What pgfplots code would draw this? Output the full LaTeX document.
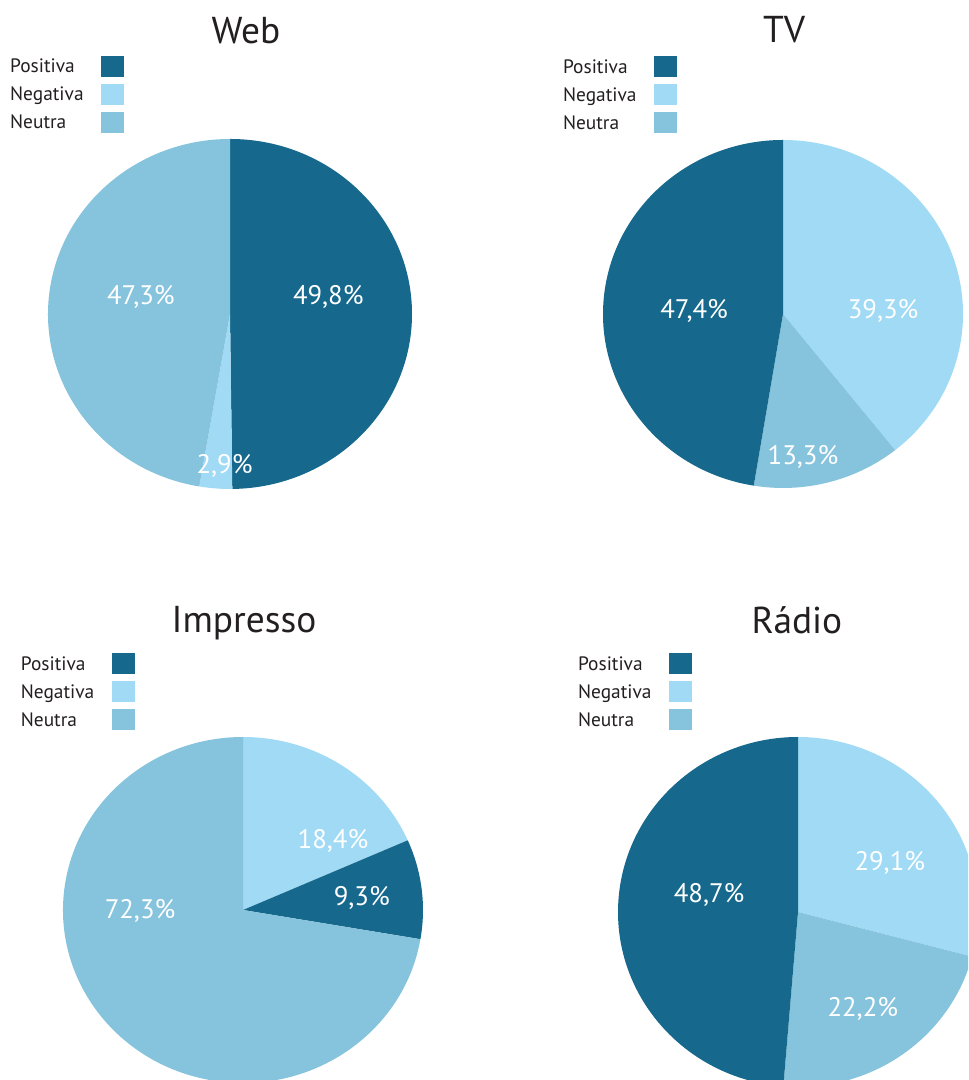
\documentclass[border=0pt]{standalone}
\usepackage{fontspec}
\setmainfont{PT Sans}
\usepackage{pgfplots}
\usepackage{pgfplotstable}
\pgfplotsset{compat=1.18}

\definecolor{cpos}{HTML}{16698C}
\definecolor{cneg}{HTML}{A0DAF5}
\definecolor{cneu}{HTML}{86C3DC}
\definecolor{ctxt}{HTML}{231F20}

\newcommand{\legfont}{\fontsize{9.7}{11}\selectfont}
\newcommand{\titfont}{\fontsize{18.7}{22}\selectfont}
\newcommand{\labfont}{\fontsize{13.4}{15}\selectfont}
\newcommand{\legtxt}[1]{\makebox[40pt][l]{\rule[-3.5pt]{0pt}{14pt}#1}}

% slices listed clockwise from 12 o'clock; lx, ly = label position (unit circle)
\pgfplotstableread{
cat value color lx ly
Positiva 49.8 cpos 0.54 0.10
Negativa 2.9 cneg -0.03 -0.87
Neutra 47.3 cneu -0.49 0.10
}\webdata
\pgfplotstableread{
cat value color lx ly
Negativa 39.3 cneg 0.556 0.02
Neutra 13.3 cneu 0.111 -0.82
Positiva 47.4 cpos -0.494 0.02
}\tvdata
\pgfplotstableread{
cat value color lx ly
Negativa 18.4 cneg 0.50 0.40
Positiva 9.3 cpos 0.66 0.07
Neutra 72.3 cneu -0.572 -0.006
}\impdata
\pgfplotstableread{
cat value color lx ly
Negativa 29.1 cneg 0.51 0.28
Neutra 22.2 cneu 0.36 -0.554
Positiva 48.7 cpos -0.494 0.097
}\raddata

\newcommand{\drawpie}[1]{%
  \pgfplotstablegetrowsof{#1}%
  \pgfmathtruncatemacro{\lastrow}{\pgfplotsretval-1}%
  \gdef\startang{90}%
  \foreach \i in {0,...,\lastrow}{%
    \pgfplotstablegetelem{\i}{value}\of{#1}\let\val\pgfplotsretval
    \pgfplotstablegetelem{\i}{color}\of{#1}\let\col\pgfplotsretval
    \pgfmathsetmacro{\endang}{\startang-3.6*\val}%
    \edef\temp{\noexpand\fill[\col] (axis cs:0,0) -- (axis cs:{cos(\startang)},{sin(\startang)}) arc[start angle=\startang, end angle=\endang, radius=1] -- cycle;}%
    \temp
    \global\let\startang\endang
  }%
  \foreach \i in {0,...,\lastrow}{%
    \pgfplotstablegetelem{\i}{value}\of{#1}\let\val\pgfplotsretval
    \pgfplotstablegetelem{\i}{lx}\of{#1}\let\lx\pgfplotsretval
    \pgfplotstablegetelem{\i}{ly}\of{#1}\let\ly\pgfplotsretval
    \edef\temp{\noexpand\node[font=\noexpand\labfont, text=white, inner sep=0pt] at (axis cs:\lx,\ly) {\noexpand\pgfmathprintnumber[assume math mode=true, use comma, fixed, fixed zerofill, precision=1]{\val}\noexpand\%};}%
    \temp
  }%
}

\pgfplotsset{
  pie/.style={
    scale only axis, anchor=center,
    xmin=-1, xmax=1, ymin=-1, ymax=1,
    hide axis, clip=false,
    legend plot pos=right,
    legend image code/.code={\fill[##1] (0pt,-2pt) rectangle (11.5pt,8.5pt);},
    legend style={anchor=north west, draw=none, fill=none, inner sep=0pt, outer sep=0pt,
      font=\legfont, text=ctxt, row sep=1.5pt, column sep=5.5pt,
      nodes={inner sep=0pt, outer sep=0pt}, cells={anchor=base west}},
  },
}
\newcommand{\pielegend}{%
  \addlegendimage{fill=cpos, draw=none}\addlegendentry{\legtxt{Positiva}}
  \addlegendimage{fill=cneg, draw=none}\addlegendentry{\legtxt{Negativa}}
  \addlegendimage{fill=cneu, draw=none}\addlegendentry{\legtxt{Neutra}}
}

\begin{document}
\begin{tikzpicture}
\useasboundingbox (0,0) rectangle (484pt,540pt);
\clip (0,0) rectangle (484pt,540pt);

% Web
\begin{axis}[pie, at={(115pt,383pt)}, width=182pt, height=175pt,
  legend style={at={(axis description cs:-0.104,1.2486)}}]
  \pielegend
  \drawpie{\webdata}
  \node[font=\titfont, text=ctxt, anchor=base] at (axis description cs:0.544,1.274) {Web};
\end{axis}

% TV
\begin{axis}[pie, at={(391.5pt,383pt)}, width=180pt, height=174pt,
  legend style={at={(axis description cs:-0.111,1.252)}}]
  \pielegend
  \drawpie{\tvdata}
  \node[font=\titfont, text=ctxt, anchor=base] at (axis description cs:0.503,1.279) {TV};
\end{axis}

% Impresso
\begin{axis}[pie, at={(121.5pt,85pt)}, width=180pt, height=173pt,
  legend style={at={(axis description cs:-0.117,1.254)}}]
  \pielegend
  \drawpie{\impdata}
  \node[font=\titfont, text=ctxt, anchor=base] at (axis description cs:0.503,1.301) {Impresso};
\end{axis}

% Radio
\begin{axis}[pie, at={(399pt,84pt)}, width=180pt, height=175pt,
  legend style={at={(axis description cs:-0.111,1.251)}}]
  \pielegend
  \drawpie{\raddata}
  \node[font=\titfont, text=ctxt, anchor=base] at (axis description cs:0.497,1.297) {Rádio};
\end{axis}
\end{tikzpicture}
\end{document}
